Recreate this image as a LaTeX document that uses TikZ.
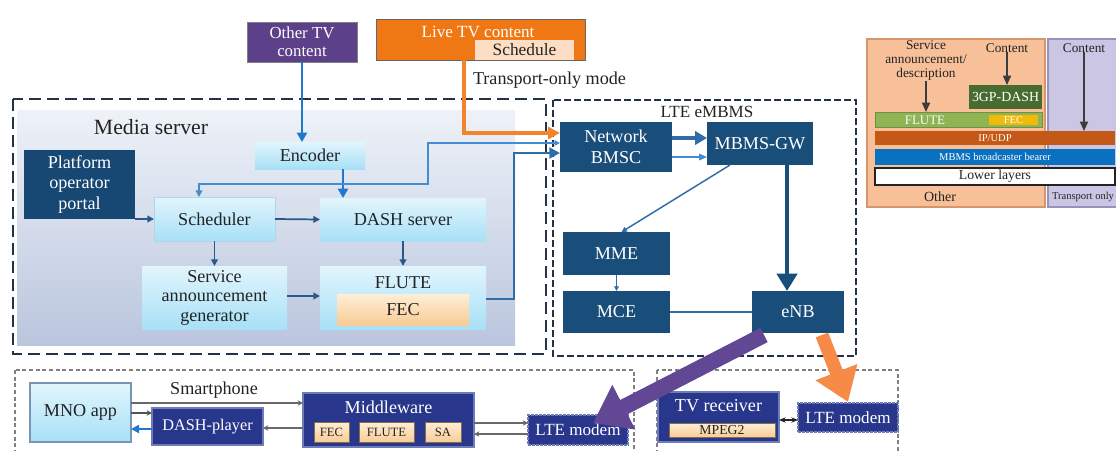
\documentclass[tikz,border=0pt]{standalone}
\usepackage{fontspec}
\setmainfont{Liberation Serif}
\usetikzlibrary{arrows.meta,calc}
\definecolor{dkblue}{RGB}{26,78,122}
\definecolor{platblue}{RGB}{22,72,115}
\definecolor{navy}{RGB}{40,55,140}
\definecolor{navyE}{RGB}{110,125,185}
\definecolor{othpurple}{RGB}{92,64,138}
\definecolor{liveor}{RGB}{240,120,20}
\definecolor{schedpeach}{RGB}{253,222,196}
\definecolor{arrblue}{RGB}{30,120,205}
\definecolor{steel}{RGB}{48,108,168}
\definecolor{thinblue}{RGB}{65,140,210}
\definecolor{dashc}{RGB}{35,50,72}
\definecolor{panelT}{RGB}{238,242,248}
\definecolor{panelB}{RGB}{186,198,222}
\definecolor{cyanT}{RGB}{225,245,253}
\definecolor{cyanB}{RGB}{168,224,247}
\definecolor{cyanE}{RGB}{175,215,235}
\definecolor{peachT}{RGB}{254,238,215}
\definecolor{peachB}{RGB}{248,204,148}
\definecolor{txt}{RGB}{35,35,35}
\definecolor{legOr}{RGB}{247,192,152}
\definecolor{legOrE}{RGB}{214,150,105}
\definecolor{legLav}{RGB}{202,198,228}
\definecolor{legLavE}{RGB}{150,146,186}
\definecolor{gdash}{RGB}{72,108,48}
\definecolor{gflute}{RGB}{142,180,84}
\definecolor{yfec}{RGB}{240,186,10}
\definecolor{ipudp}{RGB}{196,88,22}
\definecolor{bearer}{RGB}{10,112,192}
\definecolor{purpA}{RGB}{98,72,148}
\definecolor{orA}{RGB}{246,138,70}
\definecolor{gline}{RGB}{105,105,105}
\definecolor{darkarr}{RGB}{42,88,138}
\definecolor{legarr}{RGB}{60,60,60}
\definecolor{mnoE}{RGB}{120,150,180}
\definecolor{pE}{RGB}{130,110,80}
\newcommand\fmain{\fontsize{13.6pt}{15.5pt}\selectfont}
\newcommand\fbig{\fontsize{16.3pt}{18pt}\selectfont}
\newcommand\fmid{\fontsize{12.6pt}{13.3pt}\selectfont}
\newcommand\fleg{\fontsize{10pt}{10.5pt}\selectfont}
\newcommand\ftiny{\fontsize{7.9pt}{8.5pt}\selectfont}
\newcommand\fsm{\fontsize{9.5pt}{10pt}\selectfont}
\begin{document}
\begin{tikzpicture}[x=0.75pt,y=-0.75pt,
  every node/.style={inner sep=0pt,outer sep=0pt},
  wh/.style 2 args={minimum width=#1*0.75pt,minimum height=#2*0.75pt},
  darkbox/.style={fill=dkblue,text=white,font=\fmain,align=center},
  lightbox/.style={top color=cyanT,bottom color=cyanB,draw=cyanE,line width=0.5pt,font=\fmain,text=txt,align=center},
  navybox/.style={fill=navy,draw=navyE,line width=1.2pt,text=white,font=\fmain},
  modembox/.style={fill=navy,draw=navyE,line width=1pt,dash pattern=on 2pt off 1pt,text=white,font=\fmain},
  peachbox/.style={top color=peachT,bottom color=peachB,text=txt},
  msdash/.style={draw=dashc,line width=1.6pt,dash pattern=on 9pt off 4.5pt},
  ltedash/.style={draw=dashc,line width=1.3pt,dash pattern=on 5pt off 2.5pt},
  gdashbox/.style={draw=gray,line width=1.2pt,dash pattern=on 3pt off 2pt},
  blarrow/.style={draw=arrblue,line width=1.8pt,-{Triangle[length=7pt,width=7.5pt]}},
  darrow/.style={draw=darkarr,line width=1.3pt,-{Triangle[length=5pt,width=5pt]}},
  garrow/.style={draw=gline,line width=1.5pt,-{Stealth[length=4pt,width=4pt]}},
  legarrow/.style={draw=legarr,line width=1.2pt,-{Triangle[length=7pt,width=6pt]}}]
\useasboundingbox (0,0) rectangle (1116,450);
\fill[white] (0,0) rectangle (1116,450);
\clip (0,0) rectangle (1116,450);

% ---------- frames ----------
\shade[top color=panelT,bottom color=panelB] (17,110) rectangle (515,345);
\draw[msdash] (13,99) rectangle (546,354);
\draw[ltedash] (553,100) rectangle (856,356);
\draw[gdashbox] (15,370) rectangle (634,470);
\draw[gdashbox] (657,370) rectangle (898,470);

% ---------- Media server nodes ----------
\node[font=\fbig,text=txt] (mstitle) at (151,127) {Media server};
\node[wh={110}{40},fill=othpurple,draw=gray,line width=0.6pt,text=white,font=\fmid,align=center] (othertv) at (302,42) {Other TV\\content};
\node[wh={209}{41},fill=liveor,draw=gray!80!black,line width=0.6pt] (livetv) at (480.5,39.5) {};
\node[font=\fontsize{12.8pt}{14pt}\selectfont,text=white] (livetxt) at ($(livetv.north)+(-2.5,13)$) {Live TV content};
\node[wh={99}{20},fill=schedpeach,font=\fontsize{13pt}{14pt}\selectfont,text=txt] (sched) at (524.5,50) {Schedule};
\node[font=\fmain,text=txt,anchor=west] (tomode) at (473,80) {Transport-only mode};

\node[wh={110}{27},lightbox,draw=none] (encoder) at (310,155.5) {Encoder};
\node[wh={111}{69},fill=platblue,text=white,font=\fmain,align=center] (platform) at (79.5,184.5) {Platform\\operator\\portal};
\node[wh={121}{44},lightbox] (scheduler) at (214.5,219) {Scheduler};
\node[wh={166}{43},lightbox,draw=none] (dash) at (403,219.5) {DASH server};
\node[wh={145}{63},lightbox,draw=none,font=\fontsize{13.6pt}{14.6pt}\selectfont] (sag) at (214.5,297.5) {Service\\announcement\\generator};
\node[wh={166}{63},lightbox,draw=none] (flute) at (403,297.5) {};
\node[font=\fmain,text=txt] (flutetxt) at ($(flute.north)+(0,17)$) {FLUTE};
\node[wh={132}{31},peachbox,font=\fmain] (fec) at (403,309.5) {FEC};

% ---------- LTE eMBMS nodes ----------
\node[font=\fontsize{12.8pt}{14pt}\selectfont,text=txt] (ltetitle) at (707,112) {LTE eMBMS};
\node[wh={112}{50},darkbox] (bmsc) at (616,147) {Network\\BMSC};
\node[wh={106}{43},darkbox] (gw) at (760,143.5) {MBMS-GW};
\node[wh={107}{43},darkbox] (mme) at (616.5,253.5) {MME};
\node[wh={107}{42},darkbox] (mce) at (616.5,312) {MCE};
\node[wh={92}{42},darkbox] (enb) at (798,312) {eNB};

% ---------- Bottom nodes ----------
\node[wh={101}{59},lightbox,draw=mnoE,line width=0.8pt] (mno) at (80.5,412.5) {MNO app};
\node[font=\fmain,text=txt] (smart) at (214,390) {Smartphone};
\node[wh={111}{37},navybox,font=\fontsize{12.2pt}{13pt}\selectfont] (dashp) at (207.5,426.5) {DASH-player};
\node[wh={171}{54},navybox] (mw) at (388.5,420) {};
\node[font=\fmain,text=white] (mwtxt) at ($(mw.north)+(0,14)$) {Middleware};
\node[wh={35}{20},peachbox,draw=pE,line width=0.6pt,font=\fsm] (mfec) at (331.5,432) {FEC};
\node[wh={55}{20},peachbox,draw=pE,line width=0.6pt,font=\fsm] (mflute) at (386.5,432) {FLUTE};
\node[wh={36}{20},peachbox,draw=pE,line width=0.6pt,font=\fsm] (msa) at (443,432) {SA};
\node[wh={100}{30},modembox,font=\fontsize{12.8pt}{14pt}\selectfont] (ltemL) at (578,430) {LTE modem};
\node[wh={121}{50},navybox] (tvr) at (718.5,417) {};
\node[font=\fmain,text=white] (tvrtxt) at ($(tvr.north)+(0,14)$) {TV receiver};
\node[wh={106}{14},peachbox,draw=pE,line width=0.5pt,font=\fontsize{10.3pt}{11pt}\selectfont] (mpeg) at (722,430) {MPEG2};
\node[wh={100}{29},modembox,font=\fontsize{12.8pt}{14pt}\selectfont] (ltemR) at (848,417.5) {LTE modem};

% ---------- Media server connectors ----------
\draw[blarrow] (othertv.south) -- (othertv.south |- encoder.north);
\coordinate (e1) at ($(encoder.south)+(33,0)$);
\draw[blarrow] (e1) -- (e1 |- dash.north);
\coordinate (j1) at (428,184);
\draw[draw=thinblue,line width=1.1pt,{Triangle[length=4pt,width=4pt]}-{Triangle[length=5pt,width=5pt]}]
  ($(bmsc.west)+(0,-4)$) -| (j1) -| ($(scheduler.north)+(-15.5,0)$);
\draw[darrow] (platform.south east) -- (platform.south east -| scheduler.west);
\draw[darrow] (scheduler.east) -- (dash.west);
\draw[darrow] (scheduler.south) -- (sag.north);
\draw[darrow] (dash.south) -- (flute.north);
\coordinate (s1) at ($(sag.east)+(0,-1.5)$);
\draw[darrow] (s1) -- (s1 -| flute.west);

% ---------- LTE connectors ----------
\coordinate (o1) at ($(livetv.south)+(-16.5,0)$);
\draw[draw=liveor!90!white,line width=2.4pt,-{Triangle[length=9pt,width=9pt]}]
  (o1) |- ($(bmsc.west)+(0,-14)$);
\coordinate (j2) at (514,153);
\draw[draw=steel,line width=2.2pt,-{Triangle[length=8pt,width=8pt]}]
  ($(flute.east)+(0,1.5)$) -| (j2) -- ($(bmsc.west)+(0,6)$);
\coordinate (b1) at ($(bmsc.east)+(0,-9)$);
\draw[draw=steel,line width=2.6pt,-{Triangle[length=9pt,width=10pt]}] (b1) -- (b1 -| gw.west);
\coordinate (b2) at ($(bmsc.east)+(0,10)$);
\draw[draw=thinblue,line width=1.1pt,-{Triangle[length=6pt,width=5pt]}] (b2) -- (b2 -| gw.west);
\draw[draw=steel,line width=1.1pt,-{Triangle[length=4pt,width=4pt]}]
  ($(gw.south west)+(23,0)$) -- ($(mme.north)+(5,0)$);
\draw[draw=steel,line width=1pt,-{Triangle[length=3.5pt,width=3.5pt]}] (mme.south) -- (mce.north);
\draw[draw=steel,line width=1pt] (mce.east) -- (enb.west);
\coordinate (g1) at ($(gw.south)+(27,0)$);
\draw[draw=dkblue,line width=3.2pt,-{Triangle[length=13pt,width=15pt]}] (g1) -- (g1 |- enb.north);

% ---------- Bottom connectors ----------
\coordinate (m1) at ($(mno.east)+(0,-9.5)$);
\draw[garrow] (m1) -- (m1 -| mw.west);
\coordinate (m2) at ($(mno.east)+(0,0.5)$);
\draw[garrow,draw=gline!80!black] (m2) -- (m2 -| dashp.west);
\coordinate (m3) at ($(dashp.west)+(0,2.5)$);
\draw[draw=arrblue,line width=1.5pt,-{Triangle[length=6pt,width=6pt]}] (m3) -- (m3 -| mno.east);
\coordinate (m4) at ($(mw.west)+(0,8)$);
\draw[garrow] (m4) -- (m4 -| dashp.east);
\coordinate (m5) at ($(mw.east)+(0,3)$);
\draw[garrow] (m5) -- (m5 -| ltemL.west);
\coordinate (m6) at ($(ltemL.west)+(0,4)$);
\draw[garrow] (m6) -- (m6 -| mw.east);
\coordinate (t1) at ($(tvr.east)+(0,3)$);
\draw[draw=txt,line width=1.1pt,{Stealth[length=5pt,width=4pt]}-{Stealth[length=5pt,width=4pt]}] (t1) -- (t1 -| ltemR.west);

% ---------- big arrows eNB -> modems ----------
\draw[draw=purpA,line width=12pt,-{Triangle[length=26pt,width=36pt]}]
  ($(enb.south west)+(12,2)$) -- ($(ltemL.north east)+(-35,8)$);
\draw[draw=orA,line width=10pt,-{Triangle[length=24pt,width=32pt]}]
  ($(enb.south east)+(-22,2)$) -- ($(ltemR.north)+(0,-1)$);

% ---------- Legend ----------
\draw[fill=legOr,draw=legOrE,line width=0.8pt] (867,39) rectangle (1045,207);
\draw[fill=legLav,draw=legLavE,line width=0.8pt] (1048,39) rectangle (1125,207);
\node[font=\fleg,text=txt,align=center] (desc) at (926,61) {Service\\announcement/\\description};
\node[font=\fleg,text=txt] (cont1) at (1007,48) {Content};
\node[font=\fleg,text=txt] (cont2) at (1084,48) {Content};
\node[wh={73}{24},fill=gdash,text=white,font=\fontsize{10.4pt}{11pt}\selectfont] (gpdash) at (1005.5,97) {3GP-DASH};
\node[wh={167}{15},fill=gflute,draw=gflute!80!black,line width=0.5pt] (lflute) at (958.5,119.5) {};
\node[font=\fontsize{9.7pt}{10pt}\selectfont,text=white] (lflutetxt) at (925,120) {FLUTE};
\node[wh={49}{10},fill=yfec,text=white,font=\ftiny] (lfec) at (1013.5,120) {FEC};
\node[wh={240}{14},fill=ipudp,text=white,font=\ftiny] (lip) at (995,138) {IP/UDP};
\node[wh={240}{16},fill=bearer,text=white,font=\ftiny] (lbearer) at (995,157) {MBMS broadcaster bearer};
\node[wh={240}{17},fill=white,draw=txt,line width=0.8pt,text=txt,font=\fontsize{10.3pt}{11pt}\selectfont] (llower) at (995,176.5) {Lower layers};
\node[font=\fontsize{10.5pt}{11pt}\selectfont,text=txt] (lother) at (940,197) {Other};
\node[font=\ftiny,text=txt] (ltrans) at (1083,197) {Transport only};
\draw[legarrow] (desc.south) -- (desc.south |- lflute.north);
\draw[legarrow] (cont1.south) -- (cont1.south |- gpdash.north);
\draw[legarrow] (cont2.south) -- (cont2.south |- lip.north);
\end{tikzpicture}
\end{document}
